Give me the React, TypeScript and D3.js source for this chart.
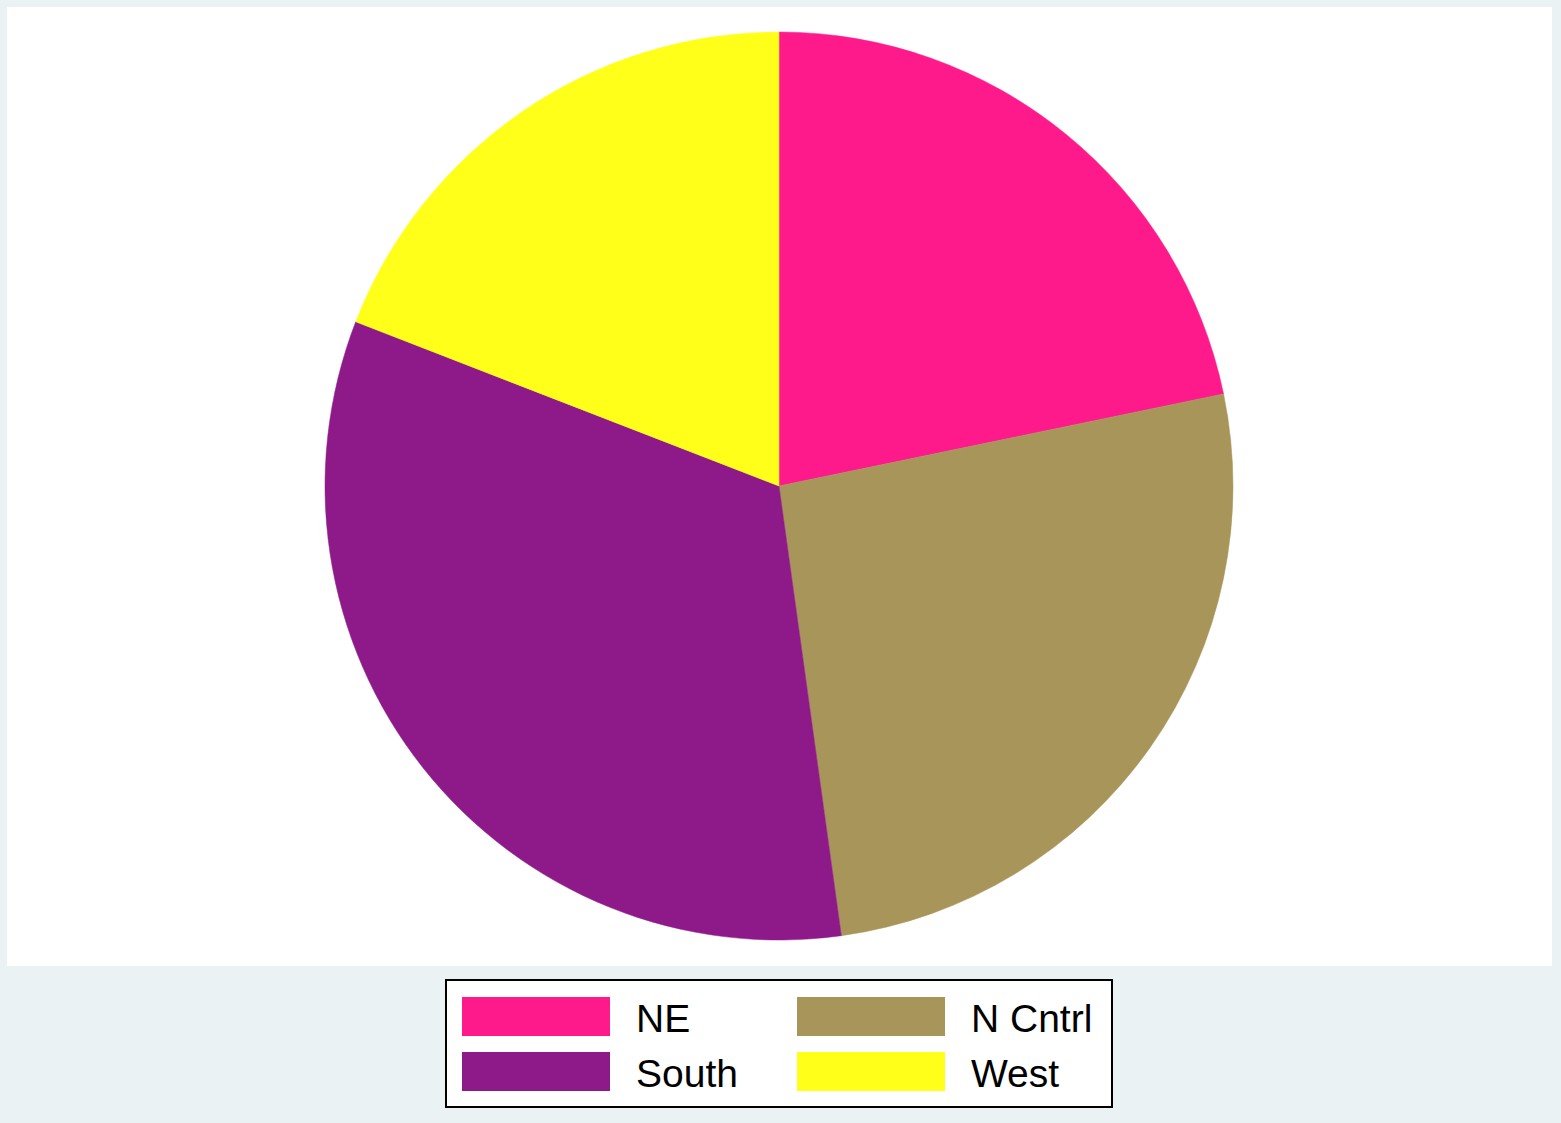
import React from 'react';
import * as d3 from 'd3';

// population by census region
const regions = ['NE', 'N Cntrl', 'South', 'West'];
const pop = [49135283, 58865670, 74734029, 43172490];
const colors = ['#FF1A8C', '#A8955A', '#8E1A8A', '#FFFF1A'];

const W = 1561;
const H = 1123;

const App: React.FC = () => {
  const data = regions.map((r, i) => ({ region: r, value: pop[i], color: colors[i] }));
  const pie = d3.pie<typeof data[number]>().sort(null).value(d => d.value);
  const arcs = pie(data);
  const cx = 779;
  const cy = 486;
  const r = 454;
  const arc = d3.arc<d3.PieArcDatum<typeof data[number]>>().innerRadius(0).outerRadius(r);

  // legend layout: 2 columns
  const lx = [462, 797];
  const ly = [997, 1052];

  return (
    <svg width={W} height={H} style={{ position: 'absolute', left: 0, top: 0 }}>
      <rect x={0} y={0} width={W} height={H} fill="#EAF2F3" />
      <rect x={7} y={7} width={1545} height={959} fill="#FFFFFF" />
      <g transform={`translate(${cx},${cy})`}>
        {arcs.map(a => (
          <path key={a.data.region} d={arc(a) || ''} fill={a.data.color} stroke={a.data.color} strokeWidth={0.5} />
        ))}
      </g>
      <rect x={446} y={980} width={666} height={127} fill="#FFFFFF" stroke="#000" strokeWidth={2} />
      {data.map((d, i) => {
        const col = i % 2;
        const row = Math.floor(i / 2);
        return (
          <g key={d.region}>
            <rect x={lx[col]} y={ly[row]} width={148} height={39} fill={d.color} />
            <text
              x={lx[col] + 174}
              y={ly[row] + 35}
              fontFamily="'Liberation Sans', Arial, sans-serif"
              fontSize={39}
              fill="#000"
            >
              {d.region}
            </text>
          </g>
        );
      })}
    </svg>
  );
};

export default App;
